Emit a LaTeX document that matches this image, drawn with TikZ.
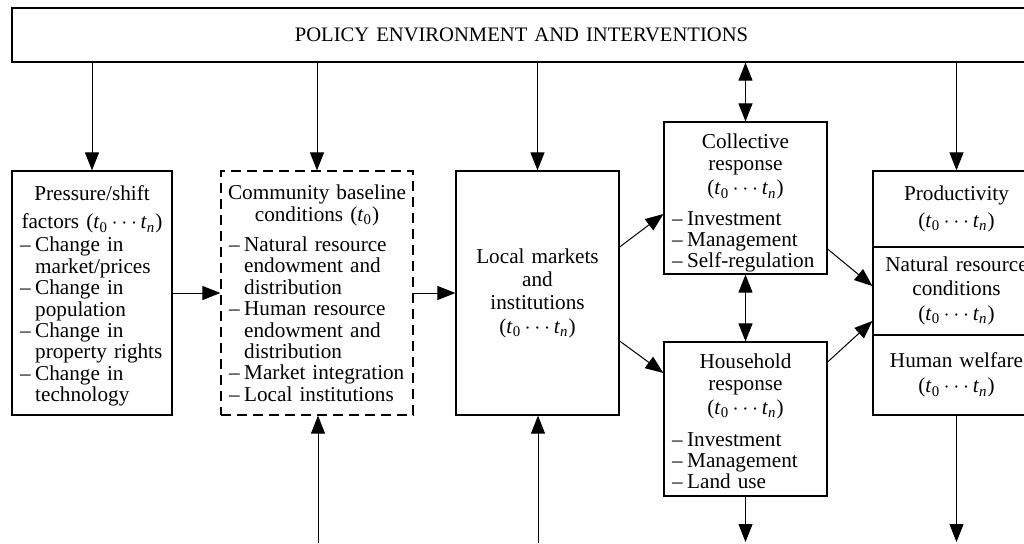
\documentclass[tikz,border=0pt]{standalone}
\usepackage{fontspec}
\setmainfont{Liberation Serif}
\usetikzlibrary{arrows.meta}
\newlength\dashw
\setlength\dashw{7.6pt}
\newcommand\itm[1]{\mbox{\makebox[\dashw][l]{–}#1}}
\newcommand\ind[1]{\mbox{\hspace*{\dashw}#1}}
\newcommand\hl[1]{\makebox[\linewidth]{#1}}
\newcommand\ttn{(\textit{t}\textsubscript{0}\,$\cdots$\,\textit{t}\textsubscript{\textit{n}})}
\begin{document}
\begin{tikzpicture}[x=0.5pt,y=-0.5pt,
  every node/.style={font=\fontsize{10.6}{10.7}\selectfont},
  box/.style={draw, line width=0.6pt, rectangle, inner xsep=4pt, inner ysep=0pt},
  dbox/.style={box, dash pattern=on 5pt off 3pt},
  conn/.style={line width=0.5pt, -{Triangle[length=9pt,width=7pt]}},
  biconn/.style={line width=0.5pt, {Triangle[length=9pt,width=7pt]}-{Triangle[length=9pt,width=7pt]}}]
\useasboundingbox (0,0) rectangle (1024,543);

% top box
\node[box, minimum width=509.5pt, minimum height=27pt, text width=500pt, align=center] (top) at (521.5,35)
  {\fontsize{10.3}{10.7}\selectfont\raisebox{-2pt}{POLICY ENVIRONMENT AND INTERVENTIONS}};

% pressure box
\node[box, minimum width=80pt, minimum height=122pt, text width=72pt] (press) at (92,293) {%
  \hl{\rule{0pt}{10.5pt}Pressure/shift}\\[3.3pt] \hl{factors \ttn}\par\vspace{0.8pt}%
  \itm{Change in}\\ \ind{market/prices}\\
  \itm{Change in}\\ \ind{population}\\
  \itm{Change in}\\ \ind{property rights}\\
  \itm{Change in}\\ \ind{technology}\par};

% community box
\node[dbox, minimum width=96pt, minimum height=122pt, text width=88pt] (comm) at (317,293) {%
  \hl{Community baseline}\\[0.5pt] \hl{conditions (\textit{t}\textsubscript{0})}\par\vspace{4.3pt}%
  \itm{Natural resource}\\ \ind{endowment and}\\ \ind{distribution}\\
  \itm{Human resource}\\ \ind{endowment and}\\ \ind{distribution}\\
  \itm{Market integration}\\
  \itm{Local institutions}\par};

% local markets
\node[box, minimum width=81.5pt, minimum height=122pt, text width=73.5pt] (local) at (537.5,293) {%
  \hl{Local markets}\\[1pt] \hl{and}\\[1pt] \hl{institutions}\\[1pt] \hl{\ttn}\par};

% collective response
\node[box, minimum width=81.5pt, minimum height=76pt, text width=73.5pt] (coll) at (745.5,198) {%
  \hl{\rule{0pt}{12.3pt}Collective}\\[0.3pt] \hl{response}\\[1.6pt] \hl{\ttn}\par\vspace{4.5pt}%
  \itm{Investment}\\
  \itm{Management}\\
  \itm{Self-regulation}\par};

% household response
\node[box, minimum width=81.5pt, minimum height=77pt, text width=73.5pt] (hh) at (745.5,419) {%
  \hl{\rule{0pt}{9.5pt}Household}\\[0.3pt] \hl{response}\\[1.6pt] \hl{\ttn}\par\vspace{5pt}%
  \itm{Investment}\\
  \itm{Management}\\
  \itm{Land use}\par};

% outcome boxes
\node[box, minimum width=83.5pt, minimum height=38pt, text width=75.5pt] (prod) at (956.5,209) {%
  \hl{Productivity}\\[2.5pt] \hl{\ttn}\par};
\node[box, minimum width=83.5pt, minimum height=44pt, text width=75.5pt] (nrc) at (956.5,291) {%
  \hl{Natural resource}\\[1pt] \hl{conditions}\\[1.8pt] \hl{\ttn}\par};
\node[box, minimum width=83.5pt, minimum height=40pt, text width=75.5pt] (hw) at (956.5,375) {%
  \hl{Human welfare}\\[1.8pt] \hl{\ttn}\par};

% helper coordinates
\coordinate (y247) at (0,247);
\coordinate (y214) at (0,214);
\coordinate (y341) at (0,341);
\coordinate (y373) at (0,373);
\coordinate (y249) at (0,249);
\coordinate (y286) at (0,286);
\coordinate (y362) at (0,362);
\coordinate (y321) at (0,321);
\coordinate (bcomm) at (318,543);
\coordinate (blocal) at (538,543);
\coordinate (bhh) at (745.5,542);
\coordinate (bhw) at (956.5,542);

% arrows from policy box
\draw[conn] (press.north |- top.south) -- (press.north);
\draw[conn] (comm.north |- top.south) -- (comm.north);
\draw[conn] (local.north |- top.south) -- (local.north);
\draw[biconn] (coll.north |- top.south) -- (coll.north);
\draw[conn] (prod.north |- top.south) -- (prod.north);

% horizontal flow
\draw[conn] (press.east) -- (comm.west);
\draw[conn] (comm.east) -- (local.west);
\draw[conn] (local.east |- y247) -- (coll.west |- y214);
\draw[conn] (local.east |- y341) -- (hh.west |- y373);
\draw[biconn] (coll.south) -- (hh.north);
\draw[conn] (coll.east |- y249) -- (nrc.west |- y286);
\draw[conn] (hh.east |- y362) -- (nrc.west |- y321);

% bottom arrows
\draw[conn] (bcomm) -- (bcomm |- comm.south);
\draw[conn] (blocal) -- (blocal |- local.south);
\draw[conn] (hh.south) -- (bhh);
\draw[conn] (hw.south) -- (bhw);
\end{tikzpicture}
\end{document}
